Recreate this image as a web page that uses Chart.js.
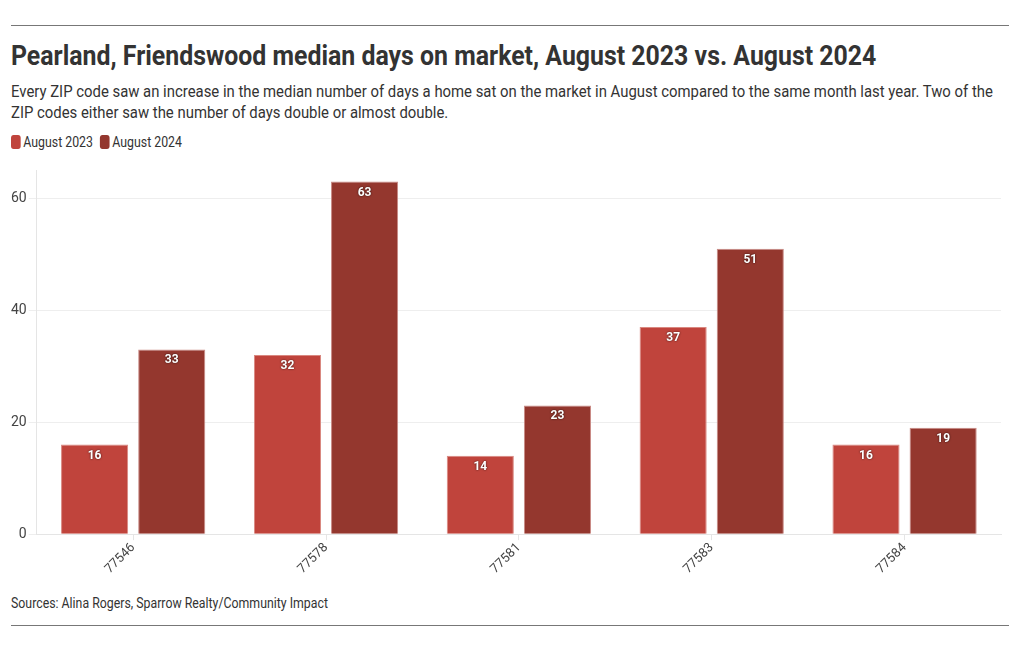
<!DOCTYPE html>
<html>
<head>
<meta charset="utf-8">
<script src="https://cdn.jsdelivr.net/npm/chart.js@4"></script>
<style>
  body { margin: 0; background: #fff; font-family: "Roboto", sans-serif; color: #333; }
  .wrap { position: relative; width: 1020px; height: 650px; overflow: hidden; }
  .rule { position: absolute; left: 11px; width: 998px; height: 1px; background: #777; }
  .cond { transform-origin: left top; }
  h1 { position: absolute; left: 11px; top: 39px; margin: 0; font-size: 28px; font-weight: bold; color: #333; white-space: nowrap; transform: scaleX(0.888); }
  .sub { position: absolute; left: 11px; top: 81px; width: 1070px; font-size: 16px; line-height: 21px; color: #333; transform: scaleX(0.93); }
  .legend { position: absolute; left: 11px; top: 134px; font-size: 14px; color: #333; display: flex; align-items: center; transform: scaleX(0.88); }
  .legend span.sw { display: inline-block; width: 11px; height: 14px; border-radius: 3px; margin-right: 3px; }
  .legend span.lab { margin-right: 8px; }
  .chart { position: absolute; left: 0; top: 160px; width: 1010px; height: 417px; }
  .src { position: absolute; left: 11px; top: 595px; font-size: 14px; color: #333; white-space: nowrap; transform: scaleX(0.88); }
</style>
</head>
<body>
<div class="wrap">
  <div class="rule" style="top:25px"></div>
  <h1 class="cond">Pearland, Friendswood median days on market, August 2023 vs. August 2024</h1>
  <div class="sub cond">Every ZIP code saw an increase in the median number of days a home sat on the market in August compared to the same month last year. Two of the ZIP codes either saw the number of days double or almost double.</div>
  <div class="legend cond">
    <span class="sw" style="background:#c0443c"></span><span class="lab">August 2023</span>
    <span class="sw" style="background:#94372e"></span><span class="lab">August 2024</span>
  </div>
  <div class="chart"><canvas id="c"></canvas></div>
  <div class="src cond">Sources: Alina Rogers, Sparrow Realty/Community Impact</div>
  <div class="rule" style="top:625px"></div>
</div>
<script>
const zips = ['77546', '77578', '77581', '77583', '77584'];
const aug2023 = [16, 32, 14, 37, 16];
const aug2024 = [33, 63, 23, 51, 19];
const yTicks = [0, 20, 40, 60];

const fontFam = '"Roboto", sans-serif';

// white value labels just inside the top of each bar
const barLabels = {
  id: 'barLabels',
  afterDatasetsDraw(chart) {
    const ctx = chart.ctx;
    ctx.save();
    ctx.font = 'bold 12px ' + fontFam;
    ctx.textAlign = 'center';
    ctx.textBaseline = 'top';
    chart.data.datasets.forEach((ds, i) => {
      chart.getDatasetMeta(i).data.forEach((bar, j) => {
        ctx.shadowColor = 'rgba(0,0,0,0.8)';
        ctx.shadowBlur = 2;
        ctx.fillStyle = '#fff';
        ctx.fillText(ds.data[j], bar.x, bar.y + 5);
      });
    });
    ctx.restore();
  }
};

new Chart(document.getElementById('c').getContext('2d'), {
  type: 'bar',
  data: {
    labels: zips,
    datasets: [
      { label: 'August 2023', data: aug2023, backgroundColor: '#c0443c', borderColor: '#d98880', borderWidth: 1 },
      { label: 'August 2024', data: aug2024, backgroundColor: '#94372e', borderColor: '#c98a85', borderWidth: 1 }
    ]
  },
  options: {
    responsive: true,
    maintainAspectRatio: false,
    animation: false,
    categoryPercentage: 0.8,
    barPercentage: 0.87,
    layout: { padding: { top: 8, right: 9, left: 9, bottom: 0 } },
    plugins: {
      legend: { display: false },
      tooltip: { enabled: false }
    },
    scales: {
      x: {
        grid: { display: true, offset: false, drawOnChartArea: false, color: '#e5e5e5', tickLength: 6 },
        border: { color: '#e5e5e5' },
        ticks: { color: '#444', font: { family: fontFam, size: 13 }, maxRotation: 45, minRotation: 45, padding: 0 }
      },
      y: {
        min: 0,
        max: 65,
        afterBuildTicks(axis) { axis.ticks = yTicks.map(v => ({ value: v })); },
        grid: { color: '#eeeeee', tickLength: 8 },
        border: { color: '#e5e5e5' },
        ticks: { color: '#444', font: { family: fontFam, size: 14 }, padding: 2 }
      }
    }
  },
  plugins: [barLabels]
});
</script>
</body>
</html>
